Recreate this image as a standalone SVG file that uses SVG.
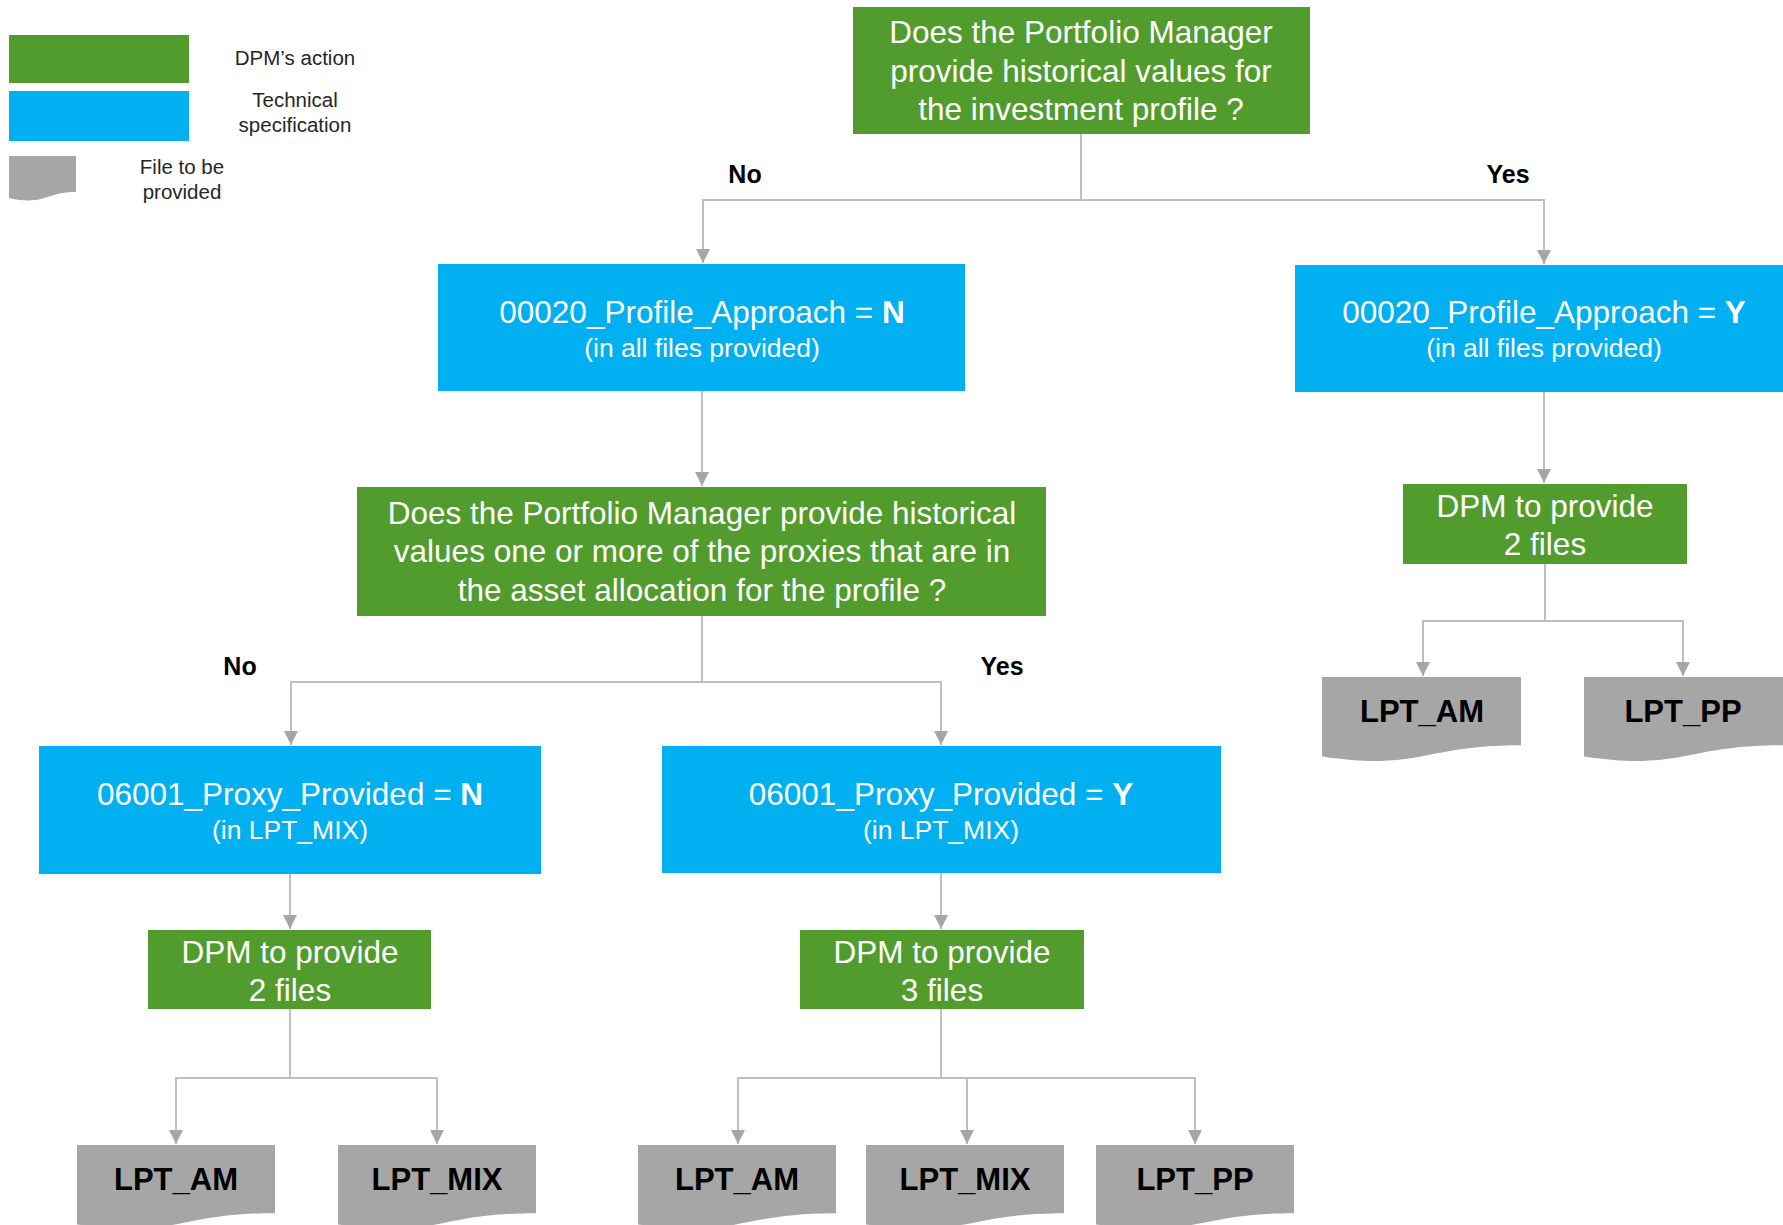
<svg xmlns="http://www.w3.org/2000/svg" width="1783" height="1225" viewBox="0 0 1783 1225">
<style>
.g{fill:#529C2E}
.b{fill:#00B0F0}
.f{fill:#A6A6A6}
.t{font-family:"Liberation Sans",Arial,sans-serif;fill:#ffffff;text-anchor:middle}
.m{font-size:31.5px}
.s{font-size:26.5px}
.fl{font-family:"Liberation Sans",Arial,sans-serif;font-weight:bold;font-size:31px;fill:#000;text-anchor:middle}
.lg{font-family:"Liberation Sans",Arial,sans-serif;font-size:20.5px;fill:#262626;text-anchor:middle}
.yn{font-family:"Liberation Sans",Arial,sans-serif;font-weight:bold;font-size:25px;fill:#000;text-anchor:middle}
.c{fill:none;stroke:#BFBFBF;stroke-width:2}
</style>
<defs>
<marker id="ah" markerUnits="userSpaceOnUse" markerWidth="16" markerHeight="16" refX="14" refY="7" orient="auto">
<path d="M0,0 L14,7 L0,14 Z" fill="#A6A6A6"/>
</marker>
<path id="doc" d="M0,0 H1 V0.802 C0.5,0.802 0.5,1.107 0,0.934 Z"/>
</defs>
<rect width="1783" height="1225" fill="#fff"/>

<g id="legend">
<rect class="g" x="9" y="35" width="180" height="48"/>
<rect class="b" x="9" y="91" width="180" height="50"/>
<path class="f" d="M9,156 H76 V192 C45,192 45,206 9,198 Z"/>
<text class="lg" x="295" y="65">DPM’s action</text>
<text class="lg" x="295" y="107">Technical</text>
<text class="lg" x="295" y="132">specification</text>
<text class="lg" x="182" y="174">File to be</text>
<text class="lg" x="182" y="199">provided</text>
</g>

<g id="connectors">
<path class="c" d="M1081,134 V200 H703 V263" marker-end="url(#ah)"/>
<path class="c" d="M1081,200 H1544 V264" marker-end="url(#ah)"/>
<path class="c" d="M702,391 V486" marker-end="url(#ah)"/>
<path class="c" d="M1544,392 V483" marker-end="url(#ah)"/>
<path class="c" d="M702,616 V682 H291 V745" marker-end="url(#ah)"/>
<path class="c" d="M702,682 H941 V745" marker-end="url(#ah)"/>
<path class="c" d="M290,874 V929" marker-end="url(#ah)"/>
<path class="c" d="M941,873 V929" marker-end="url(#ah)"/>
<path class="c" d="M290,1009 V1078 H176 V1144" marker-end="url(#ah)"/>
<path class="c" d="M290,1078 H437 V1144" marker-end="url(#ah)"/>
<path class="c" d="M941,1009 V1078 H738 V1144" marker-end="url(#ah)"/>
<path class="c" d="M941,1078 H1195 V1144" marker-end="url(#ah)"/>
<path class="c" d="M967,1078 V1144" marker-end="url(#ah)"/>
<path class="c" d="M1545,564 V621 H1423 V676" marker-end="url(#ah)"/>
<path class="c" d="M1545,621 H1683 V676" marker-end="url(#ah)"/>
<text class="yn" x="745" y="183">No</text>
<text class="yn" x="1508" y="183">Yes</text>
<text class="yn" x="240" y="675">No</text>
<text class="yn" x="1002" y="675">Yes</text>
</g>

<g id="q1">
<rect class="g" x="853" y="7" width="457" height="127"/>
<text class="t m" x="1081" y="43">Does the Portfolio Manager</text>
<text class="t m" x="1081" y="82">provide historical values for</text>
<text class="t m" x="1081" y="120">the investment profile ?</text>
</g>

<g id="spec-n">
<rect class="b" x="438" y="264" width="527" height="127"/>
<text class="t m" x="702" y="323">00020_Profile_Approach = <tspan font-weight="bold">N</tspan></text>
<text class="t s" x="702" y="357">(in all files provided)</text>
</g>

<g id="spec-y">
<rect class="b" x="1295" y="265" width="488" height="127"/>
<text class="t m" x="1544" y="323">00020_Profile_Approach = <tspan font-weight="bold">Y</tspan></text>
<text class="t s" x="1544" y="357">(in all files provided)</text>
</g>

<g id="q2">
<rect class="g" x="357" y="487" width="689" height="129"/>
<text class="t m" x="702" y="524">Does the Portfolio Manager provide historical</text>
<text class="t m" x="702" y="562">values one or more of the proxies that are in</text>
<text class="t m" x="702" y="601">the asset allocation for the profile ?</text>
</g>

<g id="dpm-right">
<rect class="g" x="1403" y="484" width="284" height="80"/>
<text class="t m" x="1545" y="517">DPM to provide</text>
<text class="t m" x="1545" y="555">2 files</text>
</g>

<g id="file-r-am">
<use href="#doc" class="f" transform="translate(1322,677) scale(199,85)"/>
<text class="fl" x="1422" y="722">LPT_AM</text>
</g>
<g id="file-r-pp">
<use href="#doc" class="f" transform="translate(1584,677) scale(199,85)"/>
<text class="fl" x="1683" y="722">LPT_PP</text>
</g>

<g id="proxy-n">
<rect class="b" x="39" y="746" width="502" height="128"/>
<text class="t m" x="290" y="805">06001_Proxy_Provided = <tspan font-weight="bold">N</tspan></text>
<text class="t s" x="290" y="839">(in LPT_MIX)</text>
</g>

<g id="proxy-y">
<rect class="b" x="662" y="746" width="559" height="127"/>
<text class="t m" x="941" y="805">06001_Proxy_Provided = <tspan font-weight="bold">Y</tspan></text>
<text class="t s" x="941" y="839">(in LPT_MIX)</text>
</g>

<g id="dpm-left">
<rect class="g" x="148" y="930" width="283" height="79"/>
<text class="t m" x="290" y="963">DPM to provide</text>
<text class="t m" x="290" y="1001">2 files</text>
</g>

<g id="dpm-mid">
<rect class="g" x="800" y="930" width="284" height="79"/>
<text class="t m" x="942" y="963">DPM to provide</text>
<text class="t m" x="942" y="1001">3 files</text>
</g>

<g id="file-l-am">
<use href="#doc" class="f" transform="translate(77,1145) scale(198,85)"/>
<text class="fl" x="176" y="1190">LPT_AM</text>
</g>
<g id="file-l-mix">
<use href="#doc" class="f" transform="translate(338,1145) scale(198,85)"/>
<text class="fl" x="437" y="1190">LPT_MIX</text>
</g>
<g id="file-m-am">
<use href="#doc" class="f" transform="translate(638,1145) scale(198,85)"/>
<text class="fl" x="737" y="1190">LPT_AM</text>
</g>
<g id="file-m-mix">
<use href="#doc" class="f" transform="translate(866,1145) scale(198,85)"/>
<text class="fl" x="965" y="1190">LPT_MIX</text>
</g>
<g id="file-m-pp">
<use href="#doc" class="f" transform="translate(1096,1145) scale(198,85)"/>
<text class="fl" x="1195" y="1190">LPT_PP</text>
</g>
</svg>
